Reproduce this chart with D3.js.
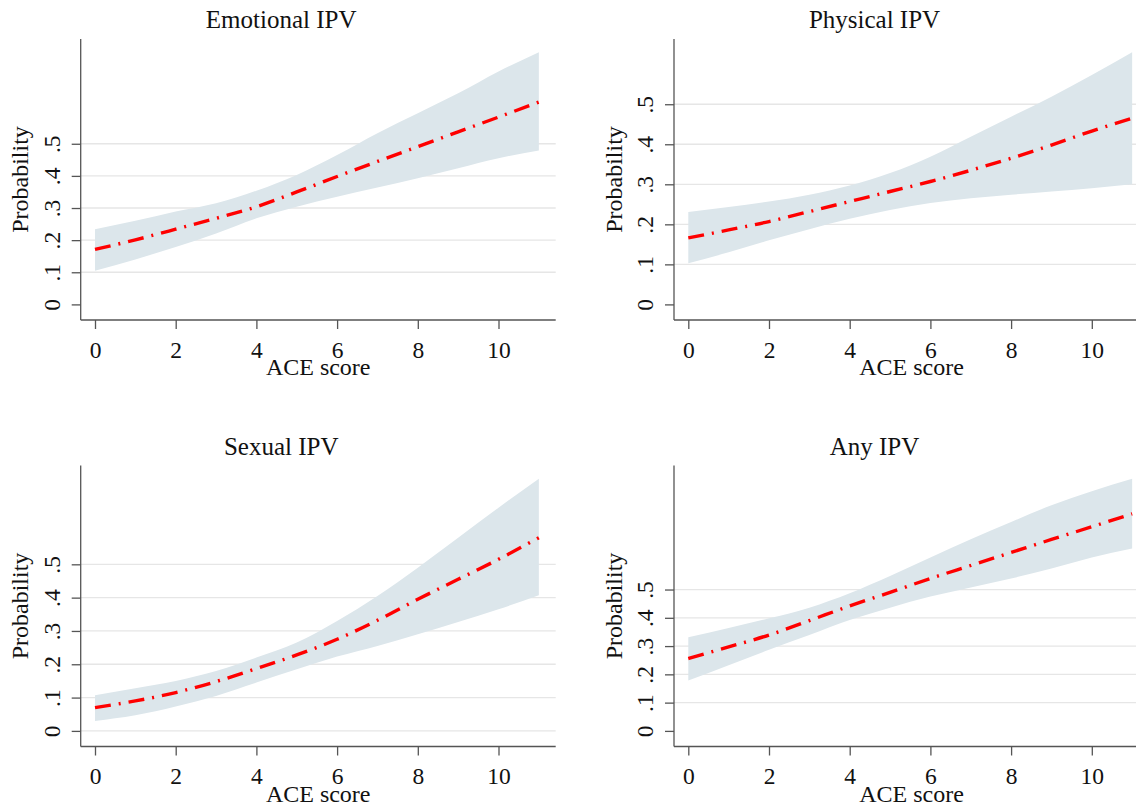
<!DOCTYPE html>
<html>
<head>
<meta charset="utf-8">
<script src="https://cdn.jsdelivr.net/npm/d3@7"></script>
<style>
  body { margin: 0; background: #fff; }
  svg text { font-family: "Liberation Serif", "Times New Roman", serif; fill: #111; }
</style>
</head>
<body>
<svg id="chart" width="1136" height="806"></svg>
<script>
// ACE score on the x axis, predicted probability + 95% CI per IPV type
const aceScore = [0, 1, 2, 3, 4, 5, 6, 7, 8, 9, 10, 11];
const xTicks = [0, 2, 4, 6, 8, 10];
const yTicks = [0, 0.1, 0.2, 0.3, 0.4, 0.5];

const emotionalFit = [.171, .201, .234, .268, .304, .350, .398, .445, .491, .537, .583, .630];
const emotionalHi  = [.234, .260, .289, .315, .354, .403, .465, .533, .595, .657, .725, .785];
const emotionalLo  = [.105, .140, .179, .221, .268, .304, .335, .364, .393, .424, .455, .479];

const physicalFit = [.166, .186, .207, .232, .257, .282, .307, .335, .365, .398, .433, .465];
const physicalHi  = [.231, .243, .257, .274, .297, .328, .369, .419, .469, .519, .573, .630];
const physicalLo  = [.103, .130, .160, .188, .214, .236, .253, .265, .274, .282, .290, .300];

const sexualFit = [.070, .090, .115, .148, .187, .228, .275, .332, .395, .455, .515, .580];
const sexualHi  = [.107, .128, .150, .180, .220, .265, .330, .405, .490, .580, .670, .757];
const sexualLo  = [.030, .047, .073, .105, .145, .185, .223, .255, .290, .327, .365, .407];

const anyFit = [.256, .297, .339, .390, .442, .490, .539, .585, .631, .677, .722, .768];
const anyHi  = [.331, .364, .398, .436, .487, .548, .613, .678, .739, .798, .848, .892];
const anyLo  = [.178, .232, .287, .339, .392, .436, .475, .507, .539, .574, .613, .645];

const panels = [
  { title: "Emotional IPV", fit: emotionalFit, hi: emotionalHi, lo: emotionalLo, ax: 80.7, ay: 320, zeroGrid: false },
  { title: "Physical IPV",  fit: physicalFit,  hi: physicalHi,  lo: physicalLo,  ax: 674,  ay: 320, zeroGrid: false },
  { title: "Sexual IPV",    fit: sexualFit,    hi: sexualHi,    lo: sexualLo,    ax: 80.7, ay: 746.5, zeroGrid: true },
  { title: "Any IPV",       fit: anyFit,       hi: anyHi,       lo: anyLo,       ax: 674,  ay: 746.5, zeroGrid: false }
];

const svg = d3.select("#chart");
const axisColor = "#555";
const fmt = d => d === 0 ? "0" : d3.format(".1f")(d).replace(/^0/, "");

panels.forEach(p => {
  const g = svg.append("g");
  const plotTop = p.ay - 281;
  const plotRight = p.ax + 475;

  const x = d3.scaleLinear().domain([0, 11]).range([p.ax + 14.3, p.ax + 14.3 + 11 * 40.35]);
  const y = d3.scaleLinear().domain([0, d3.max(p.hi)]).range([p.ay - 15.6, p.ay - 267.8]);

  // grid lines
  g.selectAll(".grid")
    .data(yTicks.filter(t => t > 0 || p.zeroGrid))
    .enter().append("line")
    .attr("x1", p.ax).attr("x2", plotRight)
    .attr("y1", d => y(d)).attr("y2", d => y(d))
    .attr("stroke", "#e6e6e6").attr("stroke-width", 1.3);

  // confidence band
  const area = d3.area()
    .x((d, i) => x(aceScore[i]))
    .y0((d, i) => y(p.lo[i]))
    .y1((d, i) => y(p.hi[i]))
    .curve(d3.curveMonotoneX);
  g.append("path").datum(p.fit).attr("d", area).attr("fill", "#dce6eb");

  // fitted line
  const line = d3.line()
    .x((d, i) => x(aceScore[i]))
    .y(d => y(d))
    .curve(d3.curveMonotoneX);
  g.append("path").datum(p.fit).attr("d", line)
    .attr("fill", "none").attr("stroke", "#ff0000").attr("stroke-width", 3.4)
    .attr("stroke-dasharray", "16,8,2,8");

  // axes
  const yAxis = g.append("g").attr("transform", `translate(${p.ax},0)`)
    .call(d3.axisLeft(y).tickValues(yTicks).tickSize(9).tickSizeOuter(0).tickFormat(fmt));
  yAxis.select(".domain").attr("d", `M0,${plotTop}V${p.ay}`);
  yAxis.selectAll(".tick text")
    .attr("x", null).attr("dy", null)
    .attr("transform", "translate(-20.7,0) rotate(-90)")
    .attr("text-anchor", "middle")
    .style("font-size", "23.5px");

  const xAxis = g.append("g").attr("transform", `translate(0,${p.ay})`)
    .call(d3.axisBottom(x).tickValues(xTicks).tickSize(9).tickSizeOuter(0));
  xAxis.select(".domain").attr("d", `M${p.ax},0H${plotRight}`);
  xAxis.selectAll(".tick text").attr("y", 37.5).attr("dy", null).style("font-size", "23.5px");

  [yAxis, xAxis].forEach(a => {
    a.attr("font-family", null).attr("font-size", null);
    a.selectAll("line, path").attr("stroke", axisColor).attr("stroke-width", 1.3);
  });

  // titles
  g.append("text")
    .attr("x", p.ax + 200.5).attr("y", p.ay - 291.7)
    .attr("text-anchor", "middle").style("font-size", "25px")
    .text(p.title);

  g.append("text")
    .attr("transform", `translate(${p.ax - 52.5},${(plotTop + p.ay) / 2}) rotate(-90)`)
    .attr("text-anchor", "middle").style("font-size", "24px")
    .text("Probability");

  g.append("text")
    .attr("x", (p.ax + plotRight) / 2).attr("y", p.ay + 55)
    .attr("text-anchor", "middle").style("font-size", "24px")
    .text("ACE score");
});
</script>
</body>
</html>
